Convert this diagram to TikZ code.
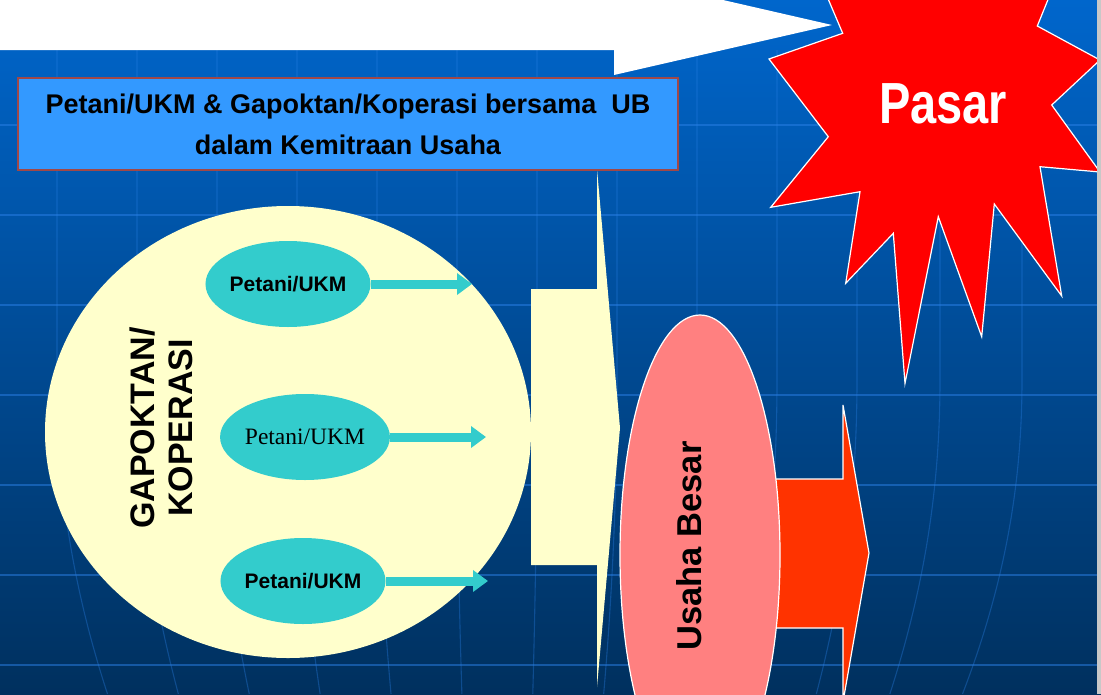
\documentclass[tikz,border=0pt]{standalone}
\usepackage{fontspec}
\setmainfont{Liberation Sans}
\newfontfamily\serifmain{Liberation Serif}
\usetikzlibrary{shapes.geometric,arrows.meta}
\definecolor{bgtop}{HTML}{0066CC}
\definecolor{bgbot}{HTML}{00305E}
\definecolor{gridc}{HTML}{2A80E6}
\definecolor{boxfill}{HTML}{3399FF}
\definecolor{boxedge}{HTML}{A04848}
\definecolor{creamc}{HTML}{FFFFCC}
\definecolor{tealc}{HTML}{33CCCC}
\definecolor{salmonc}{HTML}{FF8080}
\definecolor{ubred}{HTML}{FF3300}
\definecolor{starred}{HTML}{FF0000}
\definecolor{edgegray}{HTML}{C8C8C8}
\begin{document}
\begin{tikzpicture}[x=1pt,y=-1pt,
  member/.style={ellipse, fill=tealc, minimum width=160pt, minimum height=86pt, inner sep=0pt,
    font=\bfseries\fontsize{21}{24}\selectfont},
  flow/.style={tealc, line width=9pt, -{Triangle[width=21pt,length=15pt]}},
  gridline/.style={gridc, line width=1.2pt, opacity=0.5},
  vgridline/.style={gridc, line width=1.1pt, opacity=0.35},
  blockarrow/.style={draw=white, line width=1.2pt}
]
\useasboundingbox (0,0) rectangle (1101,694);
\shade[top color=bgtop, bottom color=bgbot] (0,0) rectangle (1101,694);
% background grid
\foreach \yy in {125,215,...,665} \draw[gridline] (0,\yy) -- (1097,\yy);
\foreach \xx in {57,137,217,297,377,457,537,617,697,777,857,940,1022} {
  \pgfmathsetmacro\xb{500+(\xx-500)*0.886}
  \pgfmathsetmacro\xc{500+(\xx-500)*0.97}
  \draw[vgridline] (\xx,50) -- (\xx,380) .. controls (\xx,480) and (\xc,580) .. (\xb,694);
}
% big white arrow at the top
\fill[white] (0,-10) -- (614,-10) -- (614,-25) -- (832,25) -- (614,75) -- (614,50) -- (0,50) -- cycle;
% cream arrow
\fill[creamc] (531,289) -- (597,289) -- (597,169) -- (620,428) -- (597,687) -- (597,565) -- (531,565) -- cycle;
% gapoktan circle
\node[ellipse, fill=creamc, minimum width=486pt, minimum height=452pt, inner sep=0pt] (gk) at (288,432) {};
\node[rotate=90, align=center, font=\bfseries\fontsize{34}{38}\selectfont] (gkt) at (161,428) {GAPOKTAN/\\KOPERASI};
% members
\node[member] (m1) at (288,284) {Petani/UKM};
\node[member, font=\serifmain\fontsize{23.5}{26}\selectfont] (m2) at (305,437) {Petani/UKM};
\node[member] (m3) at (303,581) {Petani/UKM};
\coordinate (t1) at (472,284);
\coordinate (t2) at (486,437);
\coordinate (t3) at (488,581);
\draw[flow] (m1.east) -- (t1);
\draw[flow] (m2.east) -- (t2);
\draw[flow] (m3.east) -- (t3);
% usaha besar
\filldraw[fill=ubred, blockarrow] (740,479) -- (843,479) -- (843,405) -- (869,553) -- (843,702) -- (843,628) -- (740,628) -- cycle;
\node[ellipse, fill=salmonc, draw=white, line width=1.2pt, minimum width=160pt, minimum height=480pt, inner sep=0pt] (ub) at (700,555) {};
\node[rotate=90, font=\bfseries\fontsize{34.5}{36}\selectfont] (ubt) at (689,546) {Usaha Besar};
% title box
\node[draw=boxedge, fill=boxfill, line width=1.5pt, minimum width=660pt, minimum height=92pt, inner sep=0pt,
  align=center, font=\bfseries\fontsize{27}{41}\selectfont] (box) at (348,124)
  {Petani/UKM \& Gapoktan/Koperasi bersama\ \ UB\\dalam Kemitraan Usaha};
% star
\filldraw[fill=starred, blockarrow] (842.7,33.3) -- (769,59) -- (828.3,136.7) -- (770.7,207.3) -- (860,191.7)
  -- (845.7,283.3) -- (893.3,233.3) -- (905,383.3) -- (938.3,216.7) -- (981.7,336.7) -- (994.3,204)
  -- (1061.7,296) -- (1040,166.7) -- (1100,172) -- (1051.7,105) -- (1100,60) -- (1037.3,26)
  -- (1060,-30) -- (885,-2) -- (815,-32) -- cycle;
\node[text=white, font=\bfseries\fontsize{58}{60}\selectfont] (pasar) at (943,104) {\scalebox{0.81}[1]{Pasar}};
% right edge strip
\fill[edgegray] (1097,0) rectangle (1101,694);
\end{tikzpicture}
\end{document}
